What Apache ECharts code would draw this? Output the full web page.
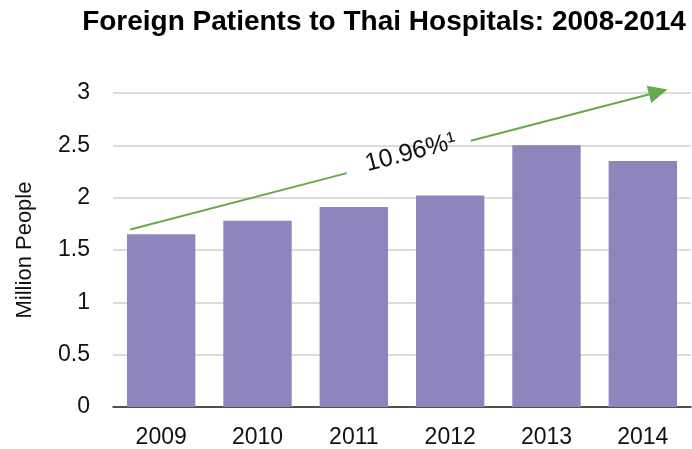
<!DOCTYPE html>
<html>
<head>
<meta charset="utf-8">
<script src="https://cdn.jsdelivr.net/npm/echarts@6/dist/echarts.min.js"></script>
<style>
  html, body { margin: 0; padding: 0; background: #fff; }
  #chart { width: 692px; height: 449px; }
</style>
</head>
<body>
<div id="chart"></div>
<script>
var years = ['2009', '2010', '2011', '2012', '2013', '2014']
var patients = [1.65, 1.78, 1.91, 2.02, 2.50, 2.35]
var yTicks = [0, 0.5, 1, 1.5, 2, 2.5, 3]

// trend arrow, in [category position, million people]
var arrowStart = [0.18, 1.70]
var arrowEnd = [5.66, 3.01]
var arrowGap = [0.41, 0.645]
var growthLabel = '10.96%¹'

function along(t) {
  return [
    arrowStart[0] + (arrowEnd[0] - arrowStart[0]) * t,
    arrowStart[1] + (arrowEnd[1] - arrowStart[1]) * t
  ]
}

var font = 'Liberation Sans, Arial, sans-serif'
var green = '#6aa84f'
var plotTop = 93, plotBottom = 41
// overlay grid with same scale as the main one but a little more headroom, so the arrow tip is not filtered
var overlayMax = 3.2
var pxPerUnit = (449 - plotTop - plotBottom) / yTicks[yTicks.length - 1]

var chart = echarts.init(document.getElementById('chart'))
chart.setOption({
  animation: false,
  title: {
    text: 'Foreign Patients to Thai Hospitals: 2008-2014',
    left: 379,
    textAlign: 'center',
    top: 3,
    textStyle: { fontFamily: font, fontSize: 28, fontWeight: 'bold', color: '#000' }
  },
  grid: [
    { left: 113, right: 1, top: plotTop, bottom: plotBottom },
    { left: 113, right: 1, top: 449 - plotBottom - overlayMax * pxPerUnit, bottom: plotBottom }
  ],
  xAxis: [
    {
      type: 'category',
      data: years,
      axisLine: { lineStyle: { color: '#222', width: 1.5 } },
      axisTick: { show: false },
      axisLabel: { fontFamily: font, fontSize: 23, color: '#111', margin: 19 }
    },
    { type: 'value', gridIndex: 1, min: 0, max: 6, show: false }
  ],
  yAxis: [
    {
      type: 'value',
      min: yTicks[0],
      max: yTicks[yTicks.length - 1],
      interval: 0.5,
      name: 'Million People',
      nameLocation: 'middle',
      nameGap: 77,
      nameTextStyle: { fontFamily: font, fontSize: 22, color: '#111' },
      axisLine: { show: false },
      axisTick: { show: false },
      splitLine: { lineStyle: { color: '#d0d0d0', width: 1.5 } },
      axisLabel: { fontFamily: font, fontSize: 23, color: '#111', margin: 23 }
    },
    { type: 'value', gridIndex: 1, min: 0, max: overlayMax, show: false }
  ],
  series: [
    {
      type: 'bar',
      data: patients,
      barWidth: '71%',
      itemStyle: { color: '#8e85bd' }
    },
    {
      type: 'line',
      xAxisIndex: 1,
      yAxisIndex: 1,
      data: [],
      markLine: {
        silent: true,
        symbol: ['none', 'none'],
        lineStyle: { color: green, width: 2, type: 'solid' },
        label: { show: false },
        data: [
          [{ coord: arrowStart }, { coord: along(arrowGap[0]) }],
          [{ coord: along(arrowGap[1]) }, { coord: arrowEnd, symbol: 'triangle', symbolSize: [18, 19] }],
          // invisible carrier for the growth label, centred in the gap
          [
            { coord: along(0.066), lineStyle: { color: 'rgba(0,0,0,0)', width: 0 } },
            {
              coord: arrowEnd,
              label: {
                show: true,
                position: 'middle',
                formatter: growthLabel,
                fontFamily: font,
                fontSize: 25,
                color: '#111',
                opacity: 1,
                distance: -9
              }
            }
          ]
        ]
      }
    }
  ]
})
</script>
</body>
</html>
